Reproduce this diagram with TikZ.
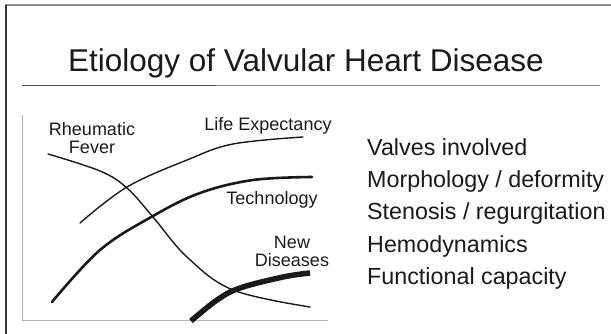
\documentclass[tikz,border=0pt]{standalone}
\usepackage{fontspec}
\setmainfont{Liberation Sans}
\usepackage{tikz}
\definecolor{ink}{HTML}{1A1A1A}
\tikzset{
  ttl/.style={font=\fontsize{31.5}{32}\selectfont, text=ink, inner sep=0pt, anchor=base},  % slide title
  lbl/.style={font=\fontsize{18}{18}\selectfont, text=ink, align=center, inner sep=0pt},  % curve label
  item/.style={font=\fontsize{23.3}{22}\selectfont, text=ink, anchor=base west, inner sep=0pt}, % list entry
  ax/.style={draw=black!30, line width=0.9pt},                   % chart axis
  cthin/.style={draw=ink, line width=1.4pt, line cap=round},     % thin curve
  cmid/.style={draw=ink, line width=2.6pt, line cap=round},      % medium curve
  cfat/.style={draw=ink, line width=5.5pt},                      % heavy curve
}
\begin{document}
\begin{tikzpicture}[x=1pt, y=-1pt]
  \useasboundingbox (0,0) rectangle (611,334);
  % slide frame
  \draw[black!45, line width=1.6pt] (5,5) -- (611,5);
  \draw[black!80, line width=1.6pt] (6,5) -- (6,334);
  \node[ttl] (title) at (306,72) {Etiology of Valvular Heart Disease};
  \draw[black!45, line width=1pt] (22,86) -- (600,86);
  \draw[black!70, line width=1pt] (22,86) -- (216,86);
  % chart
  \coordinate (top) at (22,115);
  \coordinate (orig) at (22,320);
  \coordinate (end) at (328,320);
  \draw[ax] (top) -- (orig) -- (end);
  \draw[cthin] plot[smooth, tension=0.6] coordinates {(48,154) (100,171) (127,188) (153,217) (187,257) (233,290) (310,307)};
  \draw[cthin] plot[smooth, tension=0.6] coordinates {(80,223) (127,187) (187,160) (233,144) (303,137)};
  \draw[cmid] plot[smooth, tension=0.6] coordinates {(52,302) (100,250) (153,216) (200,193) (253,180) (312,177)};
  \draw[cfat] plot[smooth, tension=0.6] coordinates {(191,321) (217,300) (240,288) (283,277) (310,273)};
  \node[lbl] (rf) at (92,138) {Rheumatic\\Fever};
  \node[lbl] (le) at (268,126) {Life Expectancy};
  \node[lbl] (tech) at (272,200) {Technology};
  \node[lbl] (nd) at (292,251) {New\\Diseases};
  % list
  \foreach \t [count=\i] in {Valves involved, Morphology / deformity, Stenosis / regurgitation, Hemodynamics, Functional capacity}
    \node[item] (it\i) at (367,124+32*\i) {\t};
\end{tikzpicture}
\end{document}
